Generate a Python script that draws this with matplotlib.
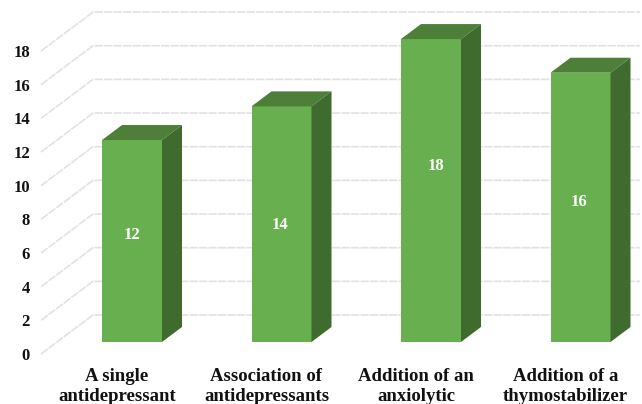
import matplotlib.pyplot as plt
from matplotlib.patches import Polygon

categories = ['A single\nantidepressant', 'Association of\nantidepressants',
              'Addition of an\nanxiolytic', 'Addition of a\nthymostabilizer']
values = [12, 14, 18, 16]
yticks = [0, 2, 4, 6, 8, 10, 12, 14, 16, 18]

plt.rcParams['font.family'] = ['Liberation Serif', 'DejaVu Serif']
plt.rcParams['font.weight'] = 'bold'

W, H = 642, 404
fig = plt.figure(figsize=(W / 100, H / 100), dpi=100)

# axes is the front plane of the fake 3D box, y=0 is the tick label height
left, right, bottom, top = 41, 640, 354, 2
ax = fig.add_axes([left / W, (H - bottom) / H, (right - left) / W, (bottom - top) / H])
px_x = 149.5
px_y = 16.83
ax.set_xlim((left - 132) / px_x, (right - 132) / px_x)
ax.set_ylim(0, (bottom - top) / px_y)
for s in ax.spines.values():
    s.set_visible(False)

# depth of the box and of the bars, in data units
wall_dx, wall_dy = 52 / px_x, 39 / px_y
bar_dx, bar_dy = 20 / px_x, 15 / px_y
floor = 12 / px_y
width = 60 / px_x
x_min = ax.get_xlim()[0]
x_max = ax.get_xlim()[1]

for t in yticks:
    ax.plot([x_min, x_min + wall_dx, x_max], [t, t + wall_dy, t + wall_dy],
            color='#e2e2e2', lw=1.2, ls=(0, (5, 0.7)), zorder=1, clip_on=False)

ax.bar(range(len(values)), values, width=width, bottom=floor, color='#67AF4F', zorder=3)
for i, v in enumerate(values):
    x0 = i - width / 2
    x1 = i + width / 2
    y1 = floor + v
    ax.add_patch(Polygon([(x0, y1), (x1, y1), (x1 + bar_dx, y1 + bar_dy), (x0 + bar_dx, y1 + bar_dy)],
                         closed=True, color='#4E7F38', lw=0, zorder=3))
    ax.add_patch(Polygon([(x1, floor), (x1 + bar_dx, floor + bar_dy), (x1 + bar_dx, y1 + bar_dy), (x1, y1)],
                         closed=True, color='#3F6B2E', lw=0, zorder=3))

# value labels were placed by hand in the original
label_x = [0, 0.99, 2.03, 2.99]
label_y = [7.1, 7.66, 11.2, 9.03]
for i, v in enumerate(values):
    ax.text(label_x[i], label_y[i], str(v), color='white', fontsize=12, ha='center', va='center', zorder=4)

ax.set_yticks(yticks)
ax.set_xticks([i - 15 / px_x for i in range(len(categories))])
ax.set_xticklabels(categories, linespacing=1.25)
ax.tick_params(axis='y', length=0, pad=8, labelsize=12, labelcolor='#111111')
ax.tick_params(axis='x', length=0, pad=10, labelsize=13.5, labelcolor='#111111')

fig.savefig('out.png', dpi=100)
